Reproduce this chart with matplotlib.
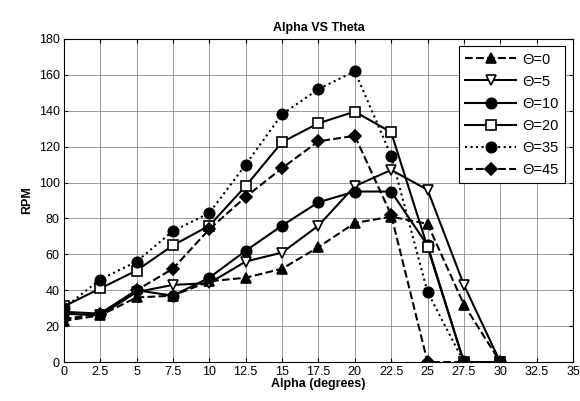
import matplotlib
matplotlib.use("Agg")
import matplotlib.pyplot as plt

plt.rcParams['font.family'] = ['Liberation Sans', 'DejaVu Sans']

alpha = [0, 2.5, 5, 7.5, 10, 12.5, 15, 17.5, 20, 22.5, 25, 27.5, 30]
theta0 = [23, 26, 36, 37, 45, 47, 52, 64, 77.5, 81, 77, 32, 0]
theta5 = [27, 26, 39, 43, 44, 56, 61, 76, 98, 107, 96, 43, 0]
theta10 = [28, 27, 40, 37, 47, 62, 76, 89, 95, 95, 65, 0, 0]
theta20 = [31, 41, 51, 65, 76, 98, 122.5, 133, 139.5, 128, 64, 0, 0]
theta35 = [30, 46, 56, 73, 83, 110, 138, 152, 162, 115, 39, 0, 0]
theta45 = [24, 27, 40, 52, 74, 92, 108, 123, 126, 82, 0, 0, 0]

labels = ['\u0398=0', '\u0398=5', '\u0398=10', '\u0398=20', '\u0398=35', '\u0398=45']
xticks = [0, 2.5, 5, 7.5, 10, 12.5, 15, 17.5, 20, 22.5, 25, 27.5, 30, 32.5, 35]
xticklabels = ['0', '2.5', '5', '7.5', '10', '12.5', '15', '17.5', '20', '22.5', '25', '27.5', '30', '32.5', '35']
yticks = [0, 20, 40, 60, 80, 100, 120, 140, 160, 180]

fig = plt.figure(figsize=(5.8, 4.01), dpi=100)
ax = fig.add_axes([0.110, 0.097, 0.878, 0.806])

styles = [
    dict(ls='--', marker='^', mfc='black'),
    dict(ls='-', marker='v', mfc='white'),
    dict(ls='-', marker='o', mfc='black'),
    dict(ls='-', marker='s', mfc='white'),
    dict(ls=':', marker='o', mfc='black'),
    dict(ls='--', marker='D', mfc='black'),
]
series = [theta0, theta5, theta10, theta20, theta35, theta45]
for ys, st, lab in zip(series, styles, labels):
    ms = 7.5 if st['marker'] != 'D' else 6
    ax.plot(alpha, ys, color='black', lw=1.5, linestyle=st['ls'], marker=st['marker'],
            mfc=st['mfc'], mec='black', mew=1.2, ms=ms, label=lab)

ax.set_xlim(0, 35)
ax.set_ylim(0, 180)
ax.set_xticks(xticks)
ax.set_xticklabels(xticklabels)
ax.set_yticks(yticks)
ax.grid(True, color='#8a8a8a', lw=0.6, ls='-')
ax.tick_params(direction='in', top=True, right=True, labelsize=9, length=3, pad=3)
for s in ax.spines.values():
    s.set_linewidth(0.8)

ax.set_title('Alpha VS Theta', fontsize=9, fontweight='bold', pad=6)
ax.set_xlabel('Alpha (degrees)', fontsize=9, fontweight='bold', labelpad=0)
ax.set_ylabel('RPM', fontsize=9, fontweight='bold', labelpad=4)

leg = ax.legend(loc='upper right', bbox_to_anchor=(0.984, 0.978), borderaxespad=0,
                fontsize=10.5, handlelength=3.5, frameon=True, fancybox=False,
                edgecolor='black', framealpha=1, borderpad=0.45, labelspacing=0.55,
                handletextpad=0.4)
leg.get_frame().set_linewidth(0.8)

fig.savefig('out.png', dpi=100)
